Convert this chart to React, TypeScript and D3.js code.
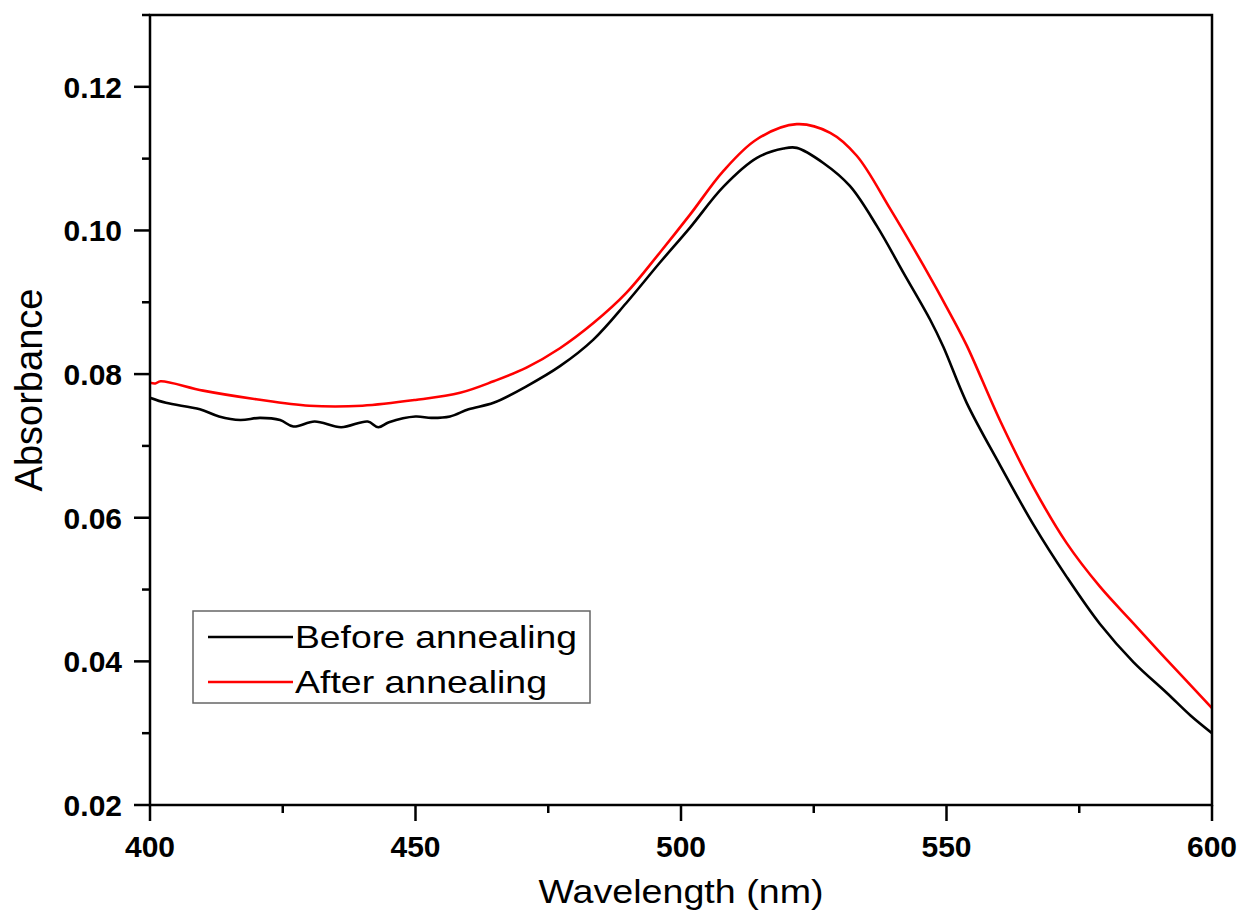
import React from "react";
import * as d3 from "d3";

// values
const beforeWavelength = [400, 403, 409.4, 413, 417, 420.7, 424.5, 427, 431, 436, 441, 443, 445, 450, 453, 456.5, 460, 464.7, 470.9, 477.2, 483.5, 489.7, 496, 501.7, 508, 514.3, 519.3, 521.8, 526.8, 531.8, 536.9, 541.9, 546.9, 549.4, 553.8, 560.1, 566.4, 572.6, 578.9, 585.2, 591.5, 595.9, 600];
const beforeAbs = [0.0767, 0.076, 0.0751, 0.0741, 0.0736, 0.0739, 0.0736, 0.0727, 0.0734, 0.0726, 0.0734, 0.0726, 0.0733, 0.0741, 0.0739, 0.0741, 0.0751, 0.076, 0.0783, 0.0811, 0.0848, 0.0899, 0.0955, 0.1004, 0.1061, 0.1101, 0.1114, 0.1115, 0.1094, 0.1062, 0.1006, 0.0941, 0.0876, 0.0838, 0.076, 0.0673, 0.059, 0.0518, 0.0452, 0.0399, 0.0356, 0.0325, 0.03];

const afterWavelength = [400, 401, 402, 410, 420, 430, 440, 450, 458.4, 464.7, 470.9, 477.2, 483.5, 489.7, 496, 501.7, 508, 514.3, 521.8, 528.1, 533.1, 539.4, 545.6, 550.7, 553.8, 560.1, 566.4, 572.6, 578.9, 585.2, 591.5, 600];
const afterAbs = [0.0788, 0.0787, 0.079, 0.0777, 0.0765, 0.0756, 0.0756, 0.0764, 0.0774, 0.079, 0.0809, 0.0836, 0.0871, 0.0913, 0.0969, 0.1022, 0.1083, 0.1127, 0.1148, 0.1136, 0.1104, 0.103, 0.0952, 0.0884, 0.084, 0.0735, 0.0642, 0.0565, 0.0504, 0.0453, 0.0402, 0.0335];

const xMajor = [400, 450, 500, 550, 600];
const xMinor = [425, 475, 525, 575];
const yMajor = [0.02, 0.04, 0.06, 0.08, 0.1, 0.12];
const yMinor = [0.03, 0.05, 0.07, 0.09, 0.11, 0.13];

const seriesNames = ["Before annealing", "After annealing"];
const seriesColors = ["#000000", "#ff0000"];

const W = 1240;
const H = 912;
const left = 150;
const right = 1212;
const top = 15;
const bottom = 805;

const App = () => {
  const x = d3.scaleLinear().domain([400, 600]).range([left, right]);
  const y = d3.scaleLinear().domain([0.02, 0.13]).range([bottom, top]);

  const line = d3
    .line<[number, number]>()
    .x((d) => x(d[0]))
    .y((d) => y(d[1]))
    .curve(d3.curveCatmullRom.alpha(0.5));

  const before = beforeWavelength.map((w, i) => [w, beforeAbs[i]] as [number, number]);
  const after = afterWavelength.map((w, i) => [w, afterAbs[i]] as [number, number]);

  const font = "'Liberation Sans', Arial, sans-serif";

  return (
    <svg
      width={W}
      height={H}
      style={{ position: "absolute", left: 0, top: 0, background: "#fff" }}
      fontFamily={font}
    >
      <rect width={W} height={H} fill="#fff" />
      <defs>
        <clipPath id="plot">
          <rect x={left} y={top} width={right - left} height={bottom - top} />
        </clipPath>
      </defs>

      {/* curves */}
      <g clipPath="url(#plot)" fill="none" strokeWidth={2.6} strokeLinejoin="round">
        <path d={line(before) ?? ""} stroke={seriesColors[0]} />
        <path d={line(after) ?? ""} stroke={seriesColors[1]} />
      </g>

      {/* frame */}
      <rect
        x={left}
        y={top}
        width={right - left}
        height={bottom - top}
        fill="none"
        stroke="#000"
        strokeWidth={2.5}
      />

      {/* ticks */}
      <g stroke="#000" strokeWidth={2.5}>
        {yMajor.map((v) => (
          <line key={"ym" + v} x1={left - 16} x2={left} y1={y(v)} y2={y(v)} />
        ))}
        {yMinor.map((v) => (
          <line key={"yn" + v} x1={left - 8} x2={left} y1={y(v)} y2={y(v)} />
        ))}
        {xMajor.map((v) => (
          <line key={"xm" + v} x1={x(v)} x2={x(v)} y1={bottom} y2={bottom + 16} />
        ))}
        {xMinor.map((v) => (
          <line key={"xn" + v} x1={x(v)} x2={x(v)} y1={bottom} y2={bottom + 8} />
        ))}
      </g>

      <g fontWeight="bold" fontSize={30} fill="#000">
        {yMajor.map((v) => (
          <text key={"yl" + v} x={122} y={y(v)} dy="0.36em" textAnchor="end">
            {d3.format(".2f")(v)}
          </text>
        ))}
        {xMajor.map((v) => (
          <text key={"xl" + v} x={x(v)} y={857} textAnchor="middle">
            {v}
          </text>
        ))}
      </g>

      {/* axis titles */}
      <text
        transform={`translate(42,390) rotate(-90)`}
        textAnchor="middle"
        fontSize={38}
      >
        Absorbance
      </text>
      <text
        x={(left + right) / 2}
        y={903}
        textAnchor="middle"
        fontSize={33}
        textLength={285}
        lengthAdjust="spacingAndGlyphs"
      >
        Wavelength (nm)
      </text>

      {/* legend */}
      <g>
        <rect x={193} y={611} width={397} height={92} fill="#fff" stroke="#666" strokeWidth={1.5} />
        {seriesNames.map((name, i) => (
          <g key={name}>
            <line
              x1={208}
              x2={293}
              y1={637 + i * 45}
              y2={637 + i * 45}
              stroke={seriesColors[i]}
              strokeWidth={2.6}
            />
            <text
              x={295}
              y={648 + i * 45}
              fontSize={32}
              textLength={i === 0 ? 282 : 252}
              lengthAdjust="spacingAndGlyphs"
            >
              {name}
            </text>
          </g>
        ))}
      </g>
    </svg>
  );
};

export default App;
